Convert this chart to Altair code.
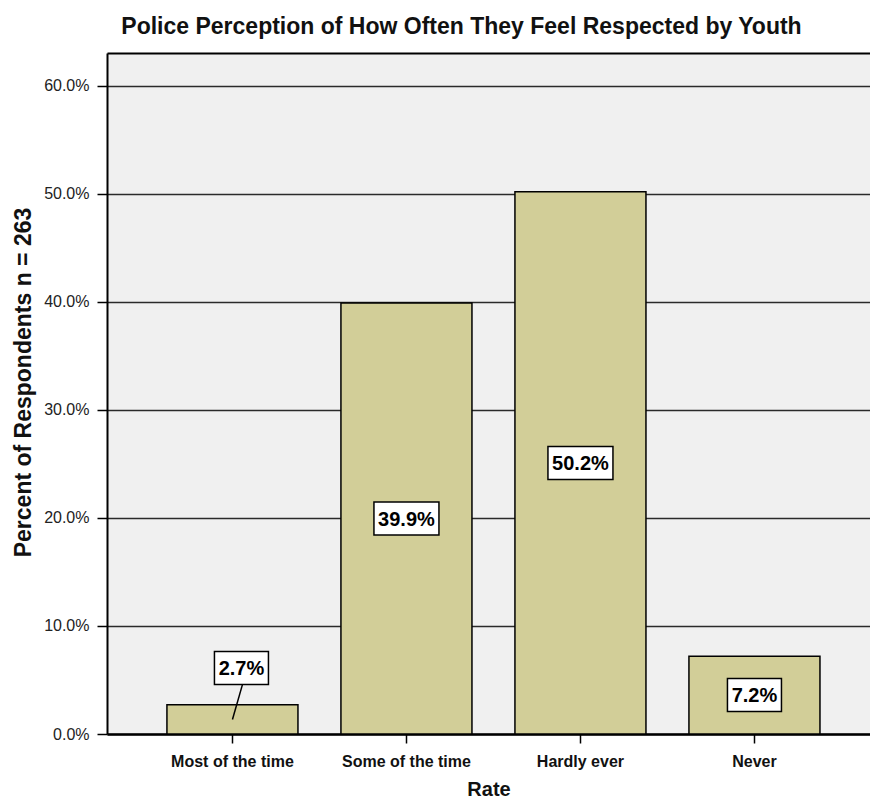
import altair as alt
import pandas as pd

categories = ["Most of the time", "Some of the time", "Hardly ever", "Never"]
percents = [2.7, 39.9, 50.2, 7.2]
labels = ["2.7%", "39.9%", "50.2%", "7.2%"]
y_ticks = [0, 10, 20, 30, 40, 50, 60]

df = pd.DataFrame({"cat": categories, "pct": percents, "label": labels})

FONT = "Liberation Sans"
W, H = 763, 681
YMAX = 63.05
BOX_HALF = 33 / 2 / H * YMAX  # half box height in data units

xscale = alt.Scale(domain=categories, paddingInner=0.247, paddingOuter=0.316, align=0.545)
yscale = alt.Scale(domain=[0, YMAX], nice=False, zero=True)

base = alt.Chart(df).transform_calculate(
    ly="datum.pct < 5 ? datum.pct + 3.4 : datum.pct / 2",
    boxw="length(datum.label) * 11 + 10",
    half="datum.pct / 2",
).transform_calculate(
    lo=f"datum.ly - {BOX_HALF}",
    hi=f"datum.ly + {BOX_HALF}",
)

bars = base.mark_bar(color="#d2ce98", stroke="black", strokeWidth=1.5).encode(
    x=alt.X("cat:N", scale=xscale, sort=categories, title="Rate",
            axis=alt.Axis(orient="bottom", labelAngle=0, labelFont=FONT, labelFontSize=16,
                          labelFontWeight="bold", labelColor="#111", tickSize=9,
                          tickColor="black", tickWidth=1.5, domainColor="black",
                          domainWidth=2.5, labelPadding=10, titleFont=FONT,
                          titleFontSize=20, titleFontWeight="bold", titleColor="#111",
                          titlePadding=10)),
    y=alt.Y("pct:Q", scale=yscale, title="Percent of Respondents n = 263",
            axis=alt.Axis(values=y_ticks, labelExpr="format(datum.value, '.1f') + '%'",
                          grid=True, gridColor="#2a2a2a", gridWidth=1.6, tickSize=10,
                          tickColor="black", tickWidth=1.5, domainColor="black",
                          domainWidth=2, labelFont=FONT, labelFontSize=16,
                          labelColor="#222", labelPadding=8, titleFont=FONT,
                          titleFontSize=23, titleFontWeight="bold", titleColor="#111",
                          titlePadding=8, titleY=329)),
)

leader = base.transform_filter("datum.pct < 5").mark_rule(
    color="black", strokeWidth=1.5, x2Offset=10
).encode(
    x=alt.X("cat:N", scale=xscale, sort=categories, axis=None),
    x2="cat:N",
    y=alt.Y("half:Q", scale=yscale, axis=None),
    y2="lo:Q",
)

def box_layer(filt, dx):
    return base.transform_filter(filt).mark_bar(
        color="white", stroke="black", strokeWidth=1.5, xOffset=dx
    ).encode(
        x=alt.X("cat:N", scale=xscale, sort=categories, axis=None),
        y=alt.Y("lo:Q", scale=yscale, axis=None),
        y2="hi:Q",
        size=alt.Size("boxw:Q", scale=None, legend=None),
    )

def text_layer(filt, dx, top_axis=False):
    ax = alt.Axis(orient="top", labels=False, ticks=False, title=None, domain=True,
                  domainColor="black", domainWidth=2) if top_axis else None
    return base.transform_filter(filt).mark_text(
        font=FONT, fontSize=20, fontWeight="bold", color="black",
        align="center", baseline="middle", xOffset=dx, dy=1
    ).encode(
        x=alt.X("cat:N", scale=xscale, sort=categories, axis=ax),
        y=alt.Y("ly:Q", scale=yscale, axis=None),
        text="label:N",
    )

chart = alt.layer(
    bars,
    leader,
    box_layer("datum.pct >= 5", 0),
    box_layer("datum.pct < 5", 9),
    text_layer("datum.pct >= 5", 0),
    text_layer("datum.pct < 5", 9, top_axis=True),
).resolve_axis(x="independent", y="independent").properties(
    width=W, height=H,
    title=alt.Title("Police Perception of How Often They Feel Respected by Youth",
                    font=FONT, fontSize=23, fontWeight="bold", color="#111",
                    anchor="middle", dx=-27, offset=14),
    autosize=alt.AutoSizeParams(type="none"),
    padding={"left": 107, "top": 53, "right": 0, "bottom": 69},
    background="white",
).configure_view(fill="#f0f0f0", stroke=None)

chart.save("out.html", embed_options={"renderer": "svg", "actions": False})
